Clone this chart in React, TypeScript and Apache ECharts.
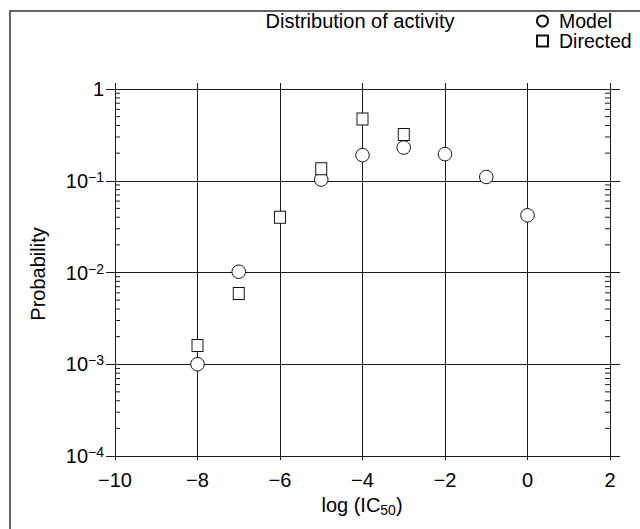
import React, { useEffect, useRef } from "react";
import * as echarts from "echarts";

const MODEL_X = [-8, -7, -5, -4, -3, -2, -1, 0];
const MODEL_Y = [0.001, 0.0102, 0.103, 0.19, 0.23, 0.195, 0.11, 0.042];
const DIRECTED_X = [-8, -7, -6, -5, -4, -3];
const DIRECTED_Y = [0.0016, 0.0059, 0.04, 0.135, 0.47, 0.32];
const DECADES = [1e-4, 1e-3, 1e-2, 1e-1];
const MINOR_MULTS = [2, 3, 4, 5, 6, 7, 8, 9];
const X_MIN = -10;
const X_MAX = 2;
const X_STEP = 2;
const Y_MIN = 1e-4;
const Y_MAX = 1;

const FONT = "'Liberation Sans', Arial, Helvetica, sans-serif";
const INK = "#1a1a1a";
const FS = 20;

export default function App() {
  const ref = useRef<HTMLDivElement>(null);
  useEffect(() => {
    if (!ref.current) return;
    const chart = echarts.init(ref.current, null, { renderer: "svg" });
    const minor: number[][] = [];
    DECADES.forEach((d) => MINOR_MULTS.forEach((m) => minor.push([X_MIN, d * m])));
    const lineStyle = { color: INK, width: 1 };
    const yFormatter = (v: number) => {
      const e = Math.round(Math.log10(v));
      if (e === 0) return "{b|1}";
      return `{b|10}{s|\u2212${-e}}`;
    };
    chart.setOption({
      animation: false,
      backgroundColor: "#fff",
      textStyle: { fontFamily: FONT },
      grid: { left: 115, top: 89, width: 495, height: 367, containLabel: false },
      legend: {
        orient: "vertical",
        left: 536,
        top: 11,
        itemWidth: 11,
        itemHeight: 11,
        itemGap: 0,
        padding: 0,
        data: ["Model", "Directed"],
        textStyle: {
          fontSize: 19.5,
          color: "#000",
          fontFamily: FONT,
          lineHeight: 19,
          padding: [0, 0, 0, 6],
        },
      },
      xAxis: [
        {
          type: "value",
          min: X_MIN,
          max: X_MAX,
          interval: X_STEP,
          position: "bottom",
          axisLine: { show: true, onZero: false, lineStyle },
          axisTick: { show: true, length: 4, lineStyle },
          splitLine: { show: true, lineStyle },
          axisLabel: {
            fontSize: FS,
            color: "#000",
            margin: 14,
            fontFamily: FONT,
            formatter: (v: number) => (v < 0 ? "\u2212" + -v : String(v)),
          },
        },
        {
          type: "value",
          min: X_MIN,
          max: X_MAX,
          interval: X_STEP,
          position: "top",
          axisLine: { show: true, onZero: false, lineStyle },
          axisTick: { show: true, length: 6, lineStyle },
          splitLine: { show: false },
          axisLabel: { show: false },
        },
      ],
      yAxis: [
        {
          type: "log",
          logBase: 10,
          min: Y_MIN,
          max: Y_MAX,
          position: "left",
          axisLine: { show: true, onZero: false, lineStyle },
          axisTick: { show: true, length: 9, lineStyle },
          splitLine: { show: true, lineStyle },
          axisLabel: {
            margin: 11,
            color: "#000",
            formatter: yFormatter,
            rich: {
              b: { fontSize: FS, fontFamily: FONT, color: "#000", lineHeight: 22 },
              s: { fontSize: 14, fontFamily: FONT, color: "#000", verticalAlign: "top", lineHeight: 22 },
            },
          },
        },
        {
          type: "log",
          logBase: 10,
          min: Y_MIN,
          max: Y_MAX,
          position: "right",
          axisLine: { show: true, onZero: false, lineStyle },
          axisTick: { show: true, length: 10, lineStyle },
          splitLine: { show: false },
          axisLabel: { show: false },
        },
      ],
      graphic: [
        {
          type: "rect",
          shape: { x: 10, y: 11, width: 700, height: 600 },
          style: { fill: "none", stroke: "#333", lineWidth: 1.5 },
          silent: true,
        },
        {
          type: "text",
          x: 360,
          y: 21,
          style: {
            text: "Distribution of activity",
            fontSize: FS,
            fontFamily: FONT,
            fill: "#000",
            align: "center",
            verticalAlign: "middle",
          },
        },
        {
          type: "text",
          x: 38,
          y: 274,
          rotation: Math.PI / 2,
          style: {
            text: "Probability",
            fontSize: FS,
            fontFamily: FONT,
            fill: "#000",
            align: "center",
            verticalAlign: "middle",
          },
        },
        {
          type: "text",
          x: 362,
          y: 505,
          style: {
            text: "{a|log (IC}{sub|50}{a|)}",
            align: "center",
            verticalAlign: "middle",
            rich: {
              a: { fontSize: FS, fontFamily: FONT, fill: "#000", lineHeight: 24 },
              sub: { fontSize: 14, fontFamily: FONT, fill: "#000", verticalAlign: "bottom", lineHeight: 24 },
            },
          },
        },
      ],
      series: [
        {
          type: "custom",
          name: "minorTicks",
          silent: true,
          xAxisIndex: 0,
          yAxisIndex: 0,
          data: minor,
          renderItem: (params: any, api: any) => {
            const v = api.value(1);
            const pL = api.coord([X_MIN, v]);
            const pR = api.coord([X_MAX, v]);
            return {
              type: "group",
              children: [
                {
                  type: "line",
                  shape: { x1: pL[0], y1: pL[1], x2: pL[0] + 5, y2: pL[1] },
                  style: { stroke: INK, lineWidth: 1 },
                },
                {
                  type: "line",
                  shape: { x1: pR[0] - 5, y1: pR[1], x2: pR[0], y2: pR[1] },
                  style: { stroke: INK, lineWidth: 1 },
                },
              ],
            };
          },
        },
        {
          type: "scatter",
          name: "Model",
          symbol: "circle",
          symbolSize: 13.5,
          z: 5,
          data: MODEL_X.map((x, i) => [x, MODEL_Y[i]]),
          itemStyle: { color: "#fff", borderColor: "#111", borderWidth: 1, opacity: 1 },
        },
        {
          type: "scatter",
          name: "Directed",
          symbol: "rect",
          symbolSize: [11, 12],
          z: 6,
          data: DIRECTED_X.map((x, i) => [x, DIRECTED_Y[i]]),
          itemStyle: { color: "#fff", borderColor: "#111", borderWidth: 1, opacity: 1 },
        },
      ],
    });
    return () => chart.dispose();
  }, []);
  return (
    <div
      ref={ref}
      style={{ position: "absolute", left: 0, top: 0, width: 640, height: 529 }}
    />
  );
}
